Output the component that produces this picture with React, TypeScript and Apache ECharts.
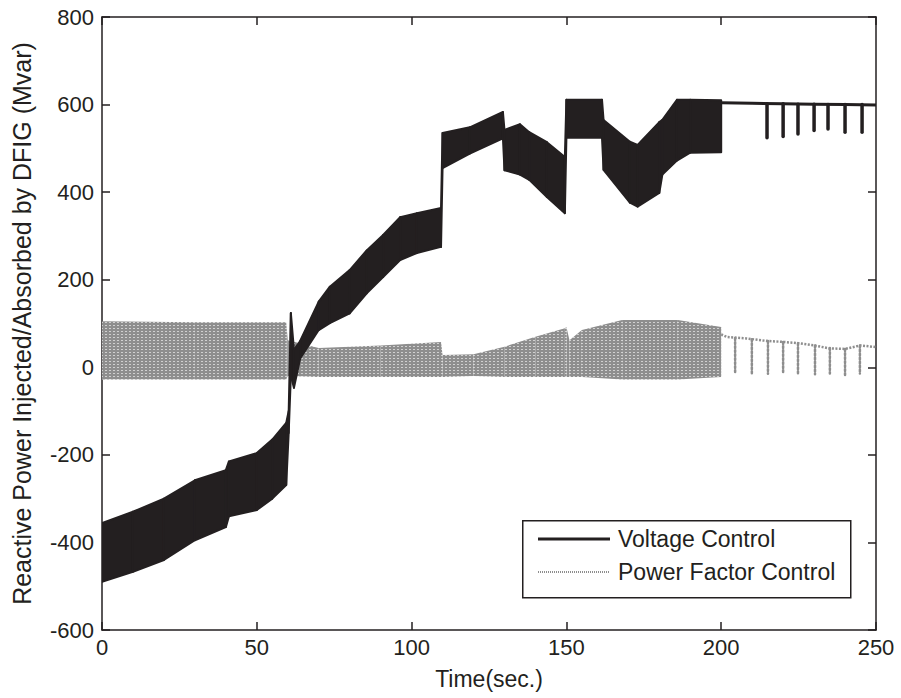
import React, { useEffect, useRef } from "react";
import * as echarts from "echarts";

// Voltage Control (black) envelope: time, lower, upper
const vcT = [0, 10, 20, 30, 40, 41, 50, 55, 59.5, 60.3, 61, 62, 64, 70, 73.6, 80, 85.5, 90.8, 96.3, 101.7, 109.5, 110, 118.8, 129.5, 130, 135, 138, 143.7, 149.5, 150, 161.5, 162, 170.5, 173, 180, 181, 185.7, 190, 200];
const vcLo = [-490, -467, -440, -395, -365, -340, -326, -300, -269, -150, -20, -47, 20, 85, 101, 123, 169, 206, 245, 261, 275, 455, 488, 523, 450, 440, 428, 389, 352, 524, 524, 451, 376, 367, 398, 440, 472, 490, 491];
const vcHi = [-356, -330, -300, -258, -235, -215, -196, -165, -127, -100, 124, 40, 60, 150, 184, 222, 267, 302, 343, 352, 364, 535, 548, 583, 542, 555, 537, 514, 480, 611, 611, 565, 515, 508, 560, 565, 611, 611, 610];
// Voltage Control after t=200: thin line and dips
const vcTailT = [200, 210, 220, 230, 240, 250];
const vcTailV = [604, 603, 602, 601, 600, 599];
const vcDipT = [214.8, 220, 224.8, 230, 234.5, 240, 245.5];
const vcDipTop = [602, 602, 601, 601, 600, 600, 600];
const vcDipLow = [524, 527, 533, 541, 544, 537, 537];

// Power Factor Control (gray) envelope
const pfT = [0, 30, 59.5, 60, 70, 90, 109.5, 110, 120, 130, 140, 149.5, 150, 151, 155, 168, 186, 200];
const pfLo = [-28, -28, -28, -20, -22, -22, -22, -22, -20, -22, -22, -22, -22, -22, -22, -28, -28, -22];
const pfHi = [105, 103, 103, 62, 44, 50, 58, 28, 30, 47, 70, 89, 92, 62, 85, 108, 108, 92];
// Power Factor Control after t=200
const pfTailT = [200, 202, 208, 215, 220, 225, 230, 235, 240, 245, 250];
const pfTailV = [75, 69, 66, 60, 58, 55, 50, 43, 42, 50, 46];
const pfDipT = [204.5, 209.9, 215.1, 220, 224.8, 230.3, 235.1, 240, 244.8];
const pfDipTop = [67, 64, 60, 58, 55, 50, 44, 42, 50];
const pfDipLow = [-13, -14, -15, -14, -15, -16, -14, -18, -14];

const xTicks = [0, 50, 100, 150, 200, 250];
const yMin = -600;
const yMax = 800;

const BLACK = "#231f20";
const GRAY = "#8e8e8e";
const FONT = "Liberation Sans, Arial, sans-serif";
const FS = 22;

function makeGrayPattern(): any {
  try {
    const c = document.createElement("canvas");
    c.width = 4;
    c.height = 3;
    const ctx = c.getContext("2d");
    if (!ctx) return "#a8a8a8";
    ctx.fillStyle = GRAY;
    ctx.fillRect(0, 0, 4, 3);
    ctx.fillStyle = "#d0d0d0";
    ctx.fillRect(1, 1, 2, 1);
    return { image: c, repeat: "repeat" };
  } catch (e) {
    return "#a8a8a8";
  }
}

function segments(t: number[], lo: number[], hi: number[]) {
  const out: number[][] = [];
  for (let i = 0; i < t.length - 1; i++) {
    out.push([t[i], lo[i], hi[i], t[i + 1], lo[i + 1], hi[i + 1]]);
  }
  return out;
}

function bandSeries(name: string, data: number[][], fill: any, stroke: string, lw: number) {
  return {
    name,
    type: "custom",
    clip: true,
    encode: { x: [0, 3], y: [1, 2, 4, 5] },
    data,
    renderItem: (_p: any, api: any) => {
      const a = api.coord([api.value(0), api.value(1)]);
      const b = api.coord([api.value(3), api.value(4)]);
      const c = api.coord([api.value(3), api.value(5)]);
      const d = api.coord([api.value(0), api.value(2)]);
      return {
        type: "polygon",
        shape: { points: [a, b, c, d] },
        style: { fill, stroke, lineWidth: lw, lineJoin: "round" },
      };
    },
  };
}

function dipSeries(name: string, t: number[], top: number[], low: number[], color: string, lw: number, dash: number[] | null) {
  return {
    name,
    type: "custom",
    clip: true,
    encode: { x: 0, y: [1, 2] },
    data: t.map((v, i) => [v, top[i], low[i]]),
    renderItem: (_p: any, api: any) => {
      const a = api.coord([api.value(0), api.value(1)]);
      const b = api.coord([api.value(0), api.value(2)]);
      return {
        type: "line",
        shape: { x1: a[0], y1: a[1], x2: b[0], y2: b[1] },
        style: { stroke: color, lineWidth: lw, lineDash: dash || undefined, lineCap: "round" },
      };
    },
  };
}

export default function App() {
  const ref = useRef<HTMLDivElement>(null);
  useEffect(() => {
    if (!ref.current) return;
    const chart = echarts.init(ref.current, undefined, { renderer: "svg" });
    const grayFill = makeGrayPattern();
    const axisCommon = {
      axisLine: { show: true, onZero: false, lineStyle: { color: BLACK, width: 1.5 } },
      axisTick: { show: true, inside: true, length: 8, lineStyle: { color: BLACK, width: 1.5 } },
      splitLine: { show: false },
    };
    const labelStyle = { color: BLACK, fontSize: FS, fontFamily: FONT };
    chart.setOption({
      animation: false,
      backgroundColor: "#ffffff",
      grid: { left: 102, right: 25, top: 17, bottom: 68, containLabel: false },
      xAxis: [
        {
          type: "value", min: 0, max: 250, interval: 50, position: "bottom",
          ...axisCommon,
          axisLabel: { ...labelStyle, margin: 6, formatter: (v: number) => (xTicks.includes(v) ? String(v) : "") },
          name: "Time(sec.)", nameLocation: "middle", nameGap: 37,
          nameTextStyle: { ...labelStyle, fontSize: 23 },
        },
        {
          type: "value", min: 0, max: 250, interval: 50, position: "top",
          ...axisCommon, axisLabel: { show: false },
        },
      ],
      yAxis: [
        {
          type: "value", min: yMin, max: yMax, interval: 200, position: "left",
          ...axisCommon,
          axisLabel: { ...labelStyle, margin: 8 },
          name: "Reactive Power Injected/Absorbed by DFIG (Mvar)", nameLocation: "middle", nameGap: 68,
          nameRotate: 90,
          nameTextStyle: { ...labelStyle, fontSize: 25 },
        },
        {
          type: "value", min: yMin, max: yMax, interval: 200, position: "right",
          ...axisCommon, axisLabel: { show: false },
        },
      ],
      series: [
        bandSeries("Power Factor Control", segments(pfT, pfLo, pfHi), grayFill, "#9a9a9a", 0),
        {
          name: "Power Factor Control tail", type: "line", showSymbol: false,
          data: pfTailT.map((t, i) => [t, pfTailV[i]]),
          lineStyle: { color: GRAY, width: 2.5, type: [2, 1.5] },
        },
        dipSeries("Power Factor Control dips", pfDipT, pfDipTop, pfDipLow, GRAY, 2.5, [2, 2]),
        bandSeries("Voltage Control", segments(vcT, vcLo, vcHi), BLACK, BLACK, 2),
        {
          name: "Voltage Control tail", type: "line", showSymbol: false,
          data: vcTailT.map((t, i) => [t, vcTailV[i]]),
          lineStyle: { color: BLACK, width: 3 },
        },
        dipSeries("Voltage Control dips", vcDipT, vcDipTop, vcDipLow, BLACK, 3.5, null),
      ],
      graphic: [
        {
          type: "rect", left: 522, top: 520, z: 100,
          shape: { width: 328, height: 77 },
          style: { fill: "#ffffff", stroke: BLACK, lineWidth: 1.5 },
        },
        {
          type: "line", z: 101,
          shape: { x1: 538, y1: 539, x2: 610, y2: 539 },
          style: { stroke: BLACK, lineWidth: 3 },
        },
        {
          type: "text", z: 101, x: 618, y: 539,
          style: { text: "Voltage Control", fill: BLACK, fontSize: 23, fontFamily: FONT, verticalAlign: "middle" },
        },
        {
          type: "line", z: 101,
          shape: { x1: 538, y1: 572, x2: 610, y2: 572 },
          style: { stroke: GRAY, lineWidth: 2, lineDash: [1, 1] },
        },
        {
          type: "text", z: 101, x: 618, y: 572,
          style: { text: "Power Factor Control", fill: BLACK, fontSize: 23, fontFamily: FONT, verticalAlign: "middle" },
        },
      ],
    });
    return () => chart.dispose();
  }, []);
  return <div ref={ref} style={{ position: "absolute", left: 0, top: 0, width: 901, height: 698 }} />;
}
